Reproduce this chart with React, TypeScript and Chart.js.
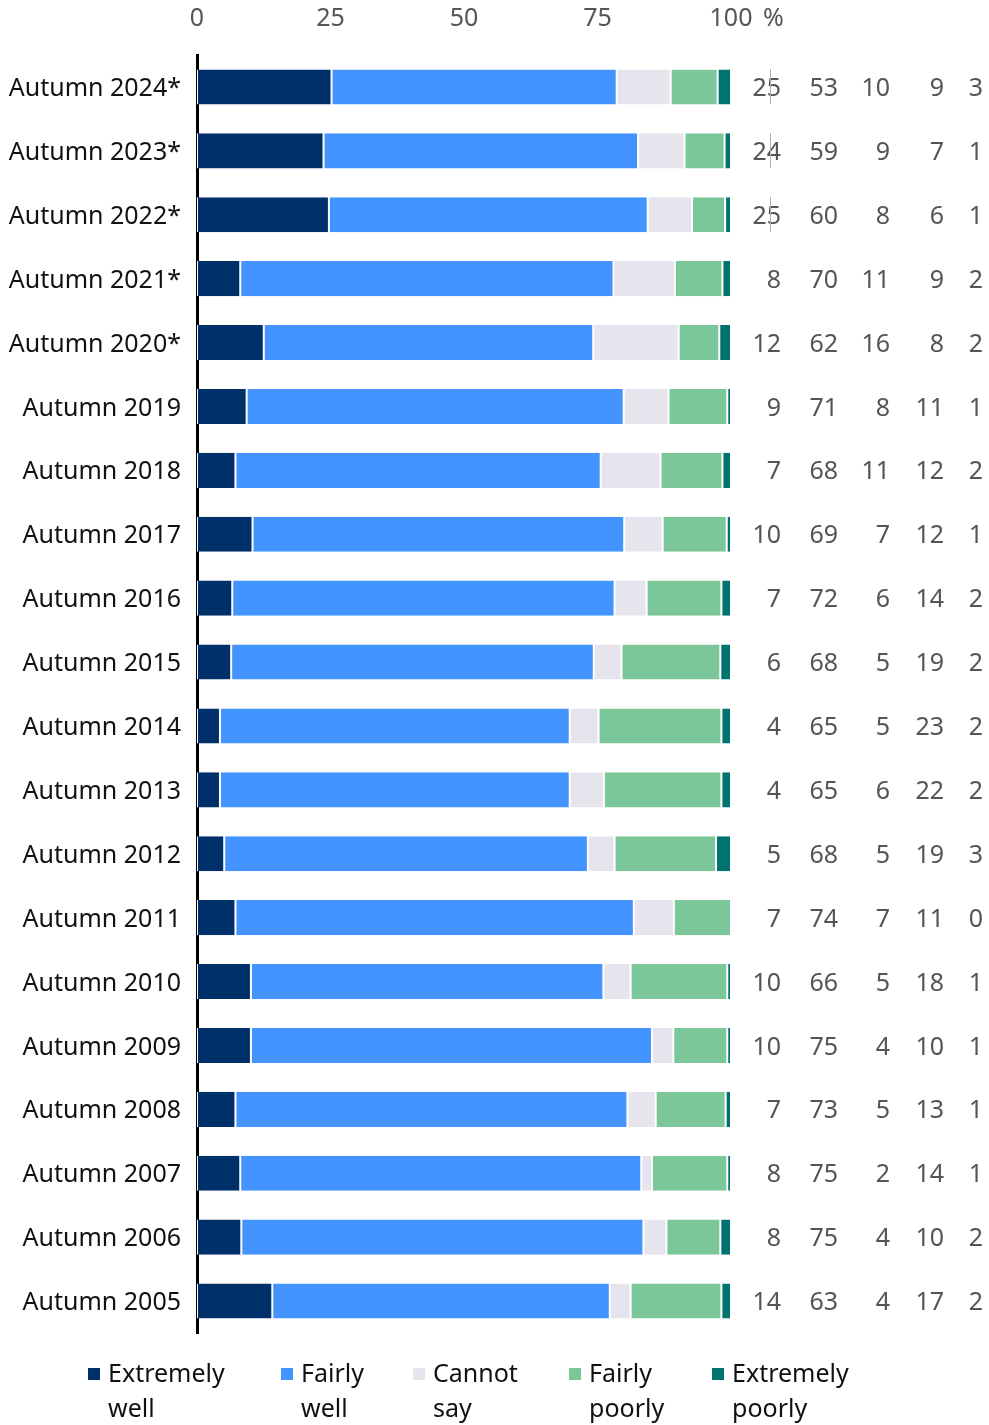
import React, { useEffect, useRef } from "react";
import { Chart, registerables } from "chart.js";

Chart.register(...registerables);

const categories = [
  "Autumn 2024*", "Autumn 2023*", "Autumn 2022*", "Autumn 2021*", "Autumn 2020*",
  "Autumn 2019", "Autumn 2018", "Autumn 2017", "Autumn 2016", "Autumn 2015",
  "Autumn 2014", "Autumn 2013", "Autumn 2012", "Autumn 2011", "Autumn 2010",
  "Autumn 2009", "Autumn 2008", "Autumn 2007", "Autumn 2006", "Autumn 2005",
];

// Bar lengths (unrounded shares, %)
const extremelyWell = [25.2, 23.7, 24.7, 8.1, 12.5, 9.3, 7.2, 10.4, 6.6, 6.4, 4.3, 4.3, 5.1, 7.2, 10.1, 10.1, 7.2, 8.1, 8.3, 14.1];
const fairlyWell = [53.4, 58.9, 59.7, 69.9, 61.7, 70.6, 68.4, 69.6, 71.6, 67.9, 65.5, 65.5, 68.1, 74.6, 66.0, 75.1, 73.4, 75.1, 75.3, 63.2];
const cannotSay = [10.1, 8.7, 8.3, 11.5, 16.0, 8.4, 11.2, 7.2, 6.0, 5.2, 5.4, 6.4, 5.0, 7.5, 5.1, 4.0, 5.3, 2.0, 4.3, 3.9];
const fairlyPoorly = [8.8, 7.5, 6.2, 8.9, 7.6, 11.0, 11.6, 12.0, 14.0, 18.5, 23.0, 22.0, 19.0, 10.7, 18.1, 10.1, 13.1, 14.1, 10.1, 17.0];
const extremelyPoorly = [2.5, 1.2, 1.1, 1.6, 2.2, 0.7, 1.6, 0.8, 1.8, 2.0, 1.8, 1.8, 2.8, 0, 0.7, 0.7, 1.0, 0.7, 2.0, 1.8];

// Printed (rounded) values in the right-hand columns
const labelExtremelyWell = [25, 24, 25, 8, 12, 9, 7, 10, 7, 6, 4, 4, 5, 7, 10, 10, 7, 8, 8, 14];
const labelFairlyWell = [53, 59, 60, 70, 62, 71, 68, 69, 72, 68, 65, 65, 68, 74, 66, 75, 73, 75, 75, 63];
const labelCannotSay = [10, 9, 8, 11, 16, 8, 11, 7, 6, 5, 5, 6, 5, 7, 5, 4, 5, 2, 4, 4];
const labelFairlyPoorly = [9, 7, 6, 9, 8, 11, 12, 12, 14, 19, 23, 22, 19, 11, 18, 10, 13, 14, 10, 17];
const labelExtremelyPoorly = [3, 1, 1, 2, 2, 1, 2, 1, 2, 2, 2, 2, 3, 0, 1, 1, 1, 1, 2, 2];

const seriesNames = [
  ["Extremely", "well"],
  ["Fairly", "well"],
  ["Cannot", "say"],
  ["Fairly", "poorly"],
  ["Extremely", "poorly"],
];
const seriesValues = [extremelyWell, fairlyWell, cannotSay, fairlyPoorly, extremelyPoorly];
const seriesLabels = [labelExtremelyWell, labelFairlyWell, labelCannotSay, labelFairlyPoorly, labelExtremelyPoorly];
const seriesColors = ["#00306A", "#4394FF", "#E6E5ED", "#7CC799", "#00736E"];

const xTicks = [0, 25, 50, 75, 100];
const markedRows = 3; // rows with the thin marker line in the first value column

const FONT = "'Noto Sans', 'Open Sans', sans-serif";

export default function App() {
  const ref = useRef<HTMLCanvasElement | null>(null);

  useEffect(() => {
    document.body.style.margin = "0";
    const canvas = ref.current;
    if (!canvas) return;

    const valueCols = [781, 838, 890, 944, 983];
    const legendX = [88, 281, 413, 569, 712];

    const extras = {
      id: "extras",
      afterDraw(chart: any) {
        const ctx = chart.ctx;
        const y = chart.scales.y;
        const x = chart.scales.x;
        ctx.save();
        ctx.font = `25px ${FONT}`;
        ctx.textBaseline = "middle";
        // category labels
        ctx.fillStyle = "#111111";
        ctx.textAlign = "right";
        categories.forEach((c, i) => {
          ctx.fillText(c, 181, y.getPixelForValue(i) + 2);
        });
        // value columns
        ctx.fillStyle = "#555555";
        categories.forEach((_, i) => {
          const py = y.getPixelForValue(i);
          seriesLabels.forEach((arr, j) => {
            ctx.fillText(String(arr[i]), valueCols[j], py + 2);
          });
        });
        // thin marker lines
        ctx.strokeStyle = "#A3B4C8";
        ctx.lineWidth = 1;
        for (let i = 0; i < markedRows; i++) {
          const py = y.getPixelForValue(i);
          ctx.beginPath();
          ctx.moveTo(770.5, py - 18);
          ctx.lineTo(770.5, py + 17);
          ctx.stroke();
        }
        // x tick labels and percent sign
        ctx.textAlign = "center";
        xTicks.forEach((t) => {
          ctx.fillText(String(t), x.getPixelForValue(t), 19);
        });
        ctx.textAlign = "left";
        ctx.fillText("%", x.getPixelForValue(100) + 32, 19);
        // legend
        seriesNames.forEach((lines, j) => {
          ctx.fillStyle = seriesColors[j];
          ctx.fillRect(legendX[j], 1368, 12, 12);
          ctx.fillStyle = "#111111";
          lines.forEach((t, k) => {
            ctx.fillText(t, legendX[j] + 20, 1375 + k * 35);
          });
        });
        ctx.restore();
      },
    };

    const chart = new Chart(canvas, {
      type: "bar",
      data: {
        labels: categories,
        datasets: seriesValues.map((vals, j) => ({
          label: seriesNames[j].join(" "),
          data: vals,
          backgroundColor: seriesColors[j],
          borderColor: "#ffffff",
          borderWidth: { left: 1, right: 1, top: 0, bottom: 0 },
          borderSkipped: false,
          barPercentage: 0.55,
          categoryPercentage: 1,
        })),
      },
      options: {
        indexAxis: "y",
        responsive: false,
        animation: false,
        layout: { padding: { left: 0, right: 258, top: 0, bottom: 92 } },
        plugins: {
          legend: { display: false },
          tooltip: { enabled: false },
        },
        scales: {
          x: {
            position: "top",
            stacked: true,
            min: 0,
            max: 100,
            afterBuildTicks: (s: any) => {
              s.ticks = xTicks.map((v) => ({ value: v }));
            },
            afterFit: (s: any) => {
              s.height = 55;
            },
            grid: { display: false, drawTicks: false },
            border: { display: false },
            ticks: { display: false },
          },
          y: {
            stacked: true,
            z: 1,
            afterFit: (s: any) => {
              s.width = 197;
            },
            grid: { display: false, drawTicks: false },
            border: { display: true, color: "#000000", width: 3 },
            ticks: { display: false },
          },
        },
      },
      plugins: [extras],
    } as any);

    return () => chart.destroy();
  }, []);

  return <canvas ref={ref} width={989} height={1425} style={{ display: "block" }} />;
}
